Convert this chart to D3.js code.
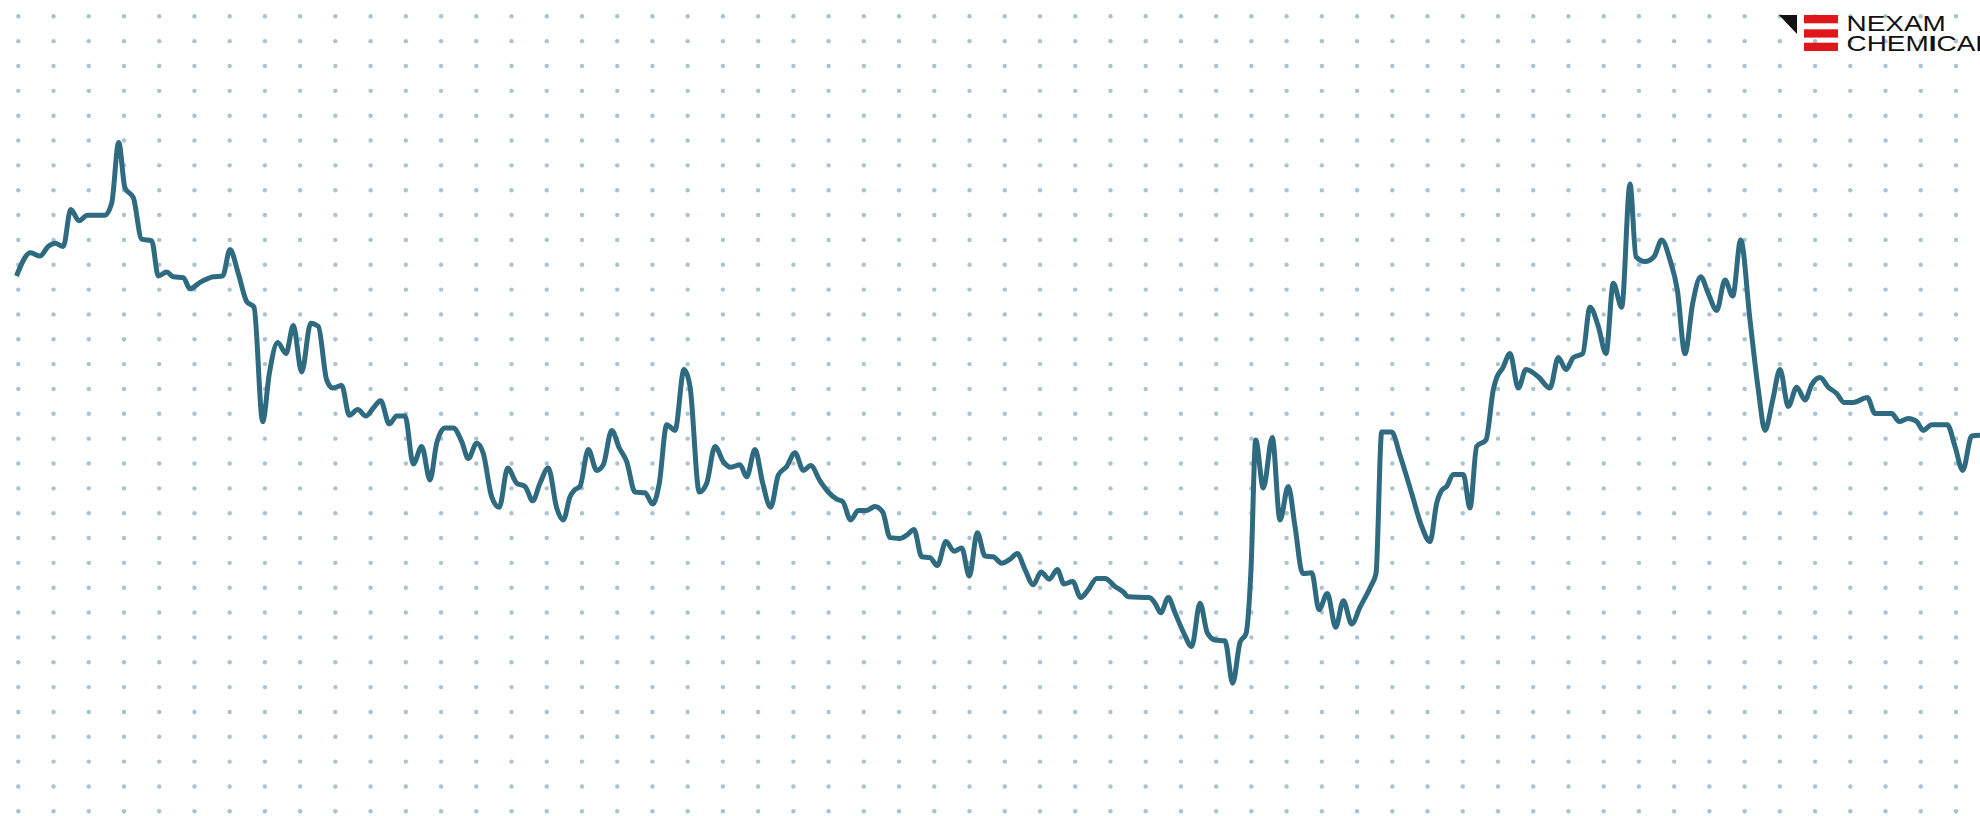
<!DOCTYPE html>
<html>
<head>
<meta charset="utf-8">
<script src="https://cdn.jsdelivr.net/npm/d3@7"></script>
<style>
  body { margin: 0; background: #fff; }
  svg { display: block; }
</style>
</head>
<body>
<div id="chart"></div>
<script>
// Basic dimensions
const width = 1980;
const height = 816;

// Series: week index and price index
const weeks = [
  0.0, 1.4, 2.35, 3.18, 3.85, 4.68, 5.42, 6.25, 7.08, 8.85, 9.52, 10.22, 10.85, 11.68, 12.52, 13.52,
  14.18, 15.02, 15.68, 16.68, 17.35, 18.35, 19.68, 20.62, 21.35, 22.18, 23.02, 23.75, 24.62, 25.28,
  26.12, 26.95, 27.68, 28.52, 29.42, 30.18, 31.02, 31.62, 32.52, 33.28, 34.12, 34.95, 35.68, 36.42,
  37.28, 38.02, 38.85, 39.68, 40.52, 41.35, 42.02, 42.85, 43.68, 44.52, 45.18, 46.02, 46.68, 47.52,
  48.28, 49.12, 50.02, 50.85, 51.62, 52.35, 53.18, 54.02, 54.68, 55.35, 55.85, 56.35, 57.18, 58.02,
  58.68, 59.52, 60.28, 61.02, 61.85, 62.85, 63.62, 64.28, 65.02, 65.85, 66.75, 67.35, 68.28, 69.02,
  69.85, 70.68, 71.42, 72.35, 73.02, 73.85, 74.62, 75.42, 76.18, 77.02, 77.85, 78.68, 79.42, 80.35,
  81.18, 82.02, 82.62, 83.42, 84.18, 85.02, 85.85, 86.62, 87.35, 88.35, 89.02, 89.75, 90.52, 91.35,
  92.08, 92.95, 93.75, 94.52, 95.28, 96.08, 96.85, 97.68, 98.52, 99.35, 100.08, 100.85, 101.68,
  102.45, 103.28, 104.08, 104.75, 105.62, 106.42, 107.18, 108.02, 108.85, 109.85, 110.68, 111.18,
  113.28, 113.85, 114.42, 115.18, 115.85, 116.68, 117.52, 118.35, 119.08, 119.85, 120.85, 121.62,
  122.35, 122.95, 123.45, 123.92, 124.68, 125.58, 126.35, 127.18, 127.85, 128.62, 129.52, 130.25,
  131.08, 131.92, 132.68, 133.52, 134.35, 135.42, 135.95, 136.52, 137.52, 138.35, 139.5, 140.52,
  141.35, 142.02, 142.52, 143.02, 143.68, 144.68, 145.35, 146.02, 146.95, 147.68, 148.02, 148.62,
  149.35, 150.18, 150.95, 152.18, 153.35, 154.18, 154.95, 155.68, 156.62, 157.35, 158.18, 158.95,
  159.68, 160.52, 161.35, 161.95, 162.85, 163.75, 164.52, 165.35, 166.08, 166.85, 167.62, 168.42,
  169.18, 170.02, 170.85, 171.62, 172.42, 173.35, 174.18, 174.85, 175.62, 176.35, 177.18, 178.02,
  178.85, 179.52, 180.35, 181.18, 182.02, 182.75, 183.68, 185.08, 185.85, 187.52, 188.28, 189.18,
  190.02, 190.68, 191.52, 193.08, 193.85, 194.62, 195.52, 196.35
];

const prices = [
  67.5, 70.4, 70.0, 71.2, 71.6, 71.2, 75.8, 74.4, 75.1, 75.1, 76.6, 84.2, 78.5, 77.3, 72.1, 71.9,
  67.5, 68.0, 67.4, 67.3, 65.9, 66.7, 67.4, 67.5, 70.8, 67.8, 64.3, 63.6, 49.3, 55.3,
  59.2, 57.8, 61.3, 55.5, 61.6, 61.2, 54.5, 53.5, 53.8, 50.1, 50.8, 50.0, 51.0, 51.9,
  49.0, 50.0, 50.0, 44.0, 46.2, 42.0, 46.6, 48.5, 48.5, 46.8, 44.7, 46.6, 45.3, 39.9,
  38.6, 43.5, 41.6, 41.2, 39.4, 41.6, 43.5, 38.5, 37.0, 39.9, 40.8, 41.2, 45.8, 43.2,
  43.9, 48.2, 46.0, 44.3, 40.5, 40.4, 39.0, 41.6, 48.9, 48.2, 55.8, 53.7, 40.5, 41.6,
  46.2, 44.3, 43.6, 43.9, 42.4, 45.8, 41.6, 38.6, 42.6, 43.7, 45.4, 43.2, 43.8, 41.9,
  40.5, 39.6, 39.3, 37.0, 38.2, 38.2, 38.7, 38.0, 34.8, 34.7, 35.1, 35.8, 32.4, 32.3,
  31.3, 34.3, 33.1, 33.5, 30.0, 35.4, 32.5, 32.4, 31.6, 32.1, 32.8, 30.8, 28.9,
  30.5, 29.6, 30.8, 29.0, 29.3, 27.3, 28.3, 29.7, 29.7, 28.7, 28.0, 27.4,
  27.3, 26.6, 25.4, 27.3, 25.4, 23.0, 21.2, 26.6, 22.9, 22.0, 21.9, 16.6,
  21.7, 22.8, 30.8, 47.0, 41.0, 47.3, 37.0, 41.2, 36.2, 30.3, 30.4, 25.8,
  27.8, 23.6, 26.9, 24.0, 26.1, 28.7, 30.3, 48.0, 48.0, 45.1, 40.4, 36.2,
  34.3, 39.1, 40.7, 41.2, 42.7, 42.7, 38.5, 46.2, 47.0, 53.3, 54.8, 56.0,
  57.8, 53.5, 55.8, 54.9, 53.5, 57.3, 55.8, 57.3, 57.8, 63.6, 61.2, 57.8,
  66.6, 63.6, 79.0, 69.9, 69.3, 69.9, 72.0, 69.5, 65.8, 57.8, 64.1, 67.4,
  65.3, 63.2, 67.0, 65.0, 72.0, 62.0, 53.3, 48.2, 52.0, 55.8, 51.2, 53.6,
  52.0, 53.9, 54.8, 53.6, 52.8, 51.7, 51.7, 52.3, 50.3, 50.3, 49.3, 49.7,
  49.3, 48.2, 48.9, 48.9, 46.2, 43.2, 47.5, 47.6
];

// Background dot grid
const gridCols = d3.range(56);
const gridRows = d3.range(33);

const svg = d3.select("#chart")
  .append("svg")
  .attr("width", width)
  .attr("height", height);

const gx = d3.scaleLinear().domain([0, 55]).range([18.3, 1956]);
const gy = d3.scaleLinear().domain([0, 32]).range([16.3, 811.3]);

svg.append("g")
  .selectAll("circle")
  .data(d3.cross(gridCols, gridRows))
  .enter()
  .append("circle")
  .attr("cx", d => gx(d[0]))
  .attr("cy", d => gy(d[1]))
  .attr("r", 2.2)
  .attr("fill", "#a9c3d1");

// Scales
const x = d3.scaleLinear()
  .domain([0, d3.max(weeks)])
  .range([16.5, width]);

const y = d3.scaleLinear()
  .domain([0, 102])
  .range([height, 0]);

const series = weeks.map((w, i) => ({ week: w, price: prices[i] }));

const line = d3.line()
  .x(d => x(d.week))
  .y(d => y(d.price))
  .curve(d3.curveMonotoneX);

svg.append("path")
  .datum(series)
  .attr("fill", "none")
  .attr("stroke", "#2e6a80")
  .attr("stroke-width", 5)
  .attr("stroke-linejoin", "round")
  .attr("d", line);

// Logo
const logo = svg.append("g");

logo.append("path")
  .attr("d", "M1779,15 L1797,15 L1797,34 Z")
  .attr("fill", "#111");

[15, 29.3, 42.7].forEach(top => {
  logo.append("rect")
    .attr("x", 1804)
    .attr("y", top)
    .attr("width", 34)
    .attr("height", 8.3)
    .attr("fill", "#e0161d");
});

const brand = logo.append("g")
  .attr("transform", "translate(1846.5,0) scale(1.27,1)")
  .attr("font-family", "Liberation Sans, Arial, sans-serif")
  .attr("font-size", "22px")
  .attr("fill", "#111");

brand.append("text")
  .attr("x", 0)
  .attr("y", 31)
  .text("NEXAM");

const chem = brand.append("text")
  .attr("x", 0)
  .attr("y", 51.5);
chem.append("tspan").text("CHEM");
chem.append("tspan").attr("font-weight", "bold").text("I");
chem.append("tspan").text("CAL");
</script>
</body>
</html>
